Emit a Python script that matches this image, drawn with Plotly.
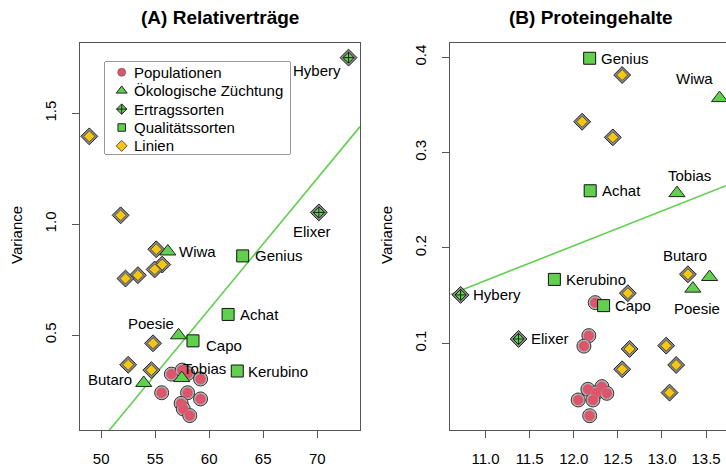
import plotly.graph_objects as go

# ---------------- data: panel A (Relativerträge) ----------------
popA_x = [56.5, 57.5, 58.0, 59.2, 55.6, 58.0, 59.2, 57.4, 57.6, 58.2]
popA_y = [0.324, 0.342, 0.327, 0.302, 0.240, 0.240, 0.212, 0.192, 0.167, 0.137]
linA_x = [48.9, 51.8, 55.1, 55.65, 54.95, 53.4, 52.25, 54.8, 52.5, 54.65]
linA_y = [1.396, 1.04, 0.887, 0.818, 0.796, 0.770, 0.755, 0.463, 0.366, 0.342]
oeko_names = ["Wiwa", "Poesie", "Tobias", "Butaro"]
oekoA_x = [56.17, 57.16, 57.46, 53.94]
oekoA_y = [0.877, 0.499, 0.306, 0.284]
ertrag_names = ["Hybery", "Elixer"]
ertragA_x = [72.9, 70.15]
ertragA_y = [1.751, 1.053]
qual_names = ["Genius", "Achat", "Capo", "Kerubino"]
qualA_x = [63.1, 61.75, 58.5, 62.6]
qualA_y = [0.857, 0.593, 0.474, 0.338]
regA = (-2.923, 0.05899)  # intercept, slope

# ---------------- data: panel B (Proteingehalte) ----------------
popB_x = [12.243, 12.171, 12.115, 12.16, 12.319, 12.254, 12.375, 12.05, 12.217, 12.18]
popB_y = [0.1426, 0.108, 0.097, 0.0517, 0.0545, 0.048, 0.0475, 0.0405, 0.0405, 0.024]
linB_x = [12.549, 12.095, 12.443, 13.294, 12.613, 12.633, 12.549, 13.048, 13.161, 13.086]
linB_y = [0.3814, 0.3324, 0.316, 0.1724, 0.1525, 0.094, 0.0727, 0.0975, 0.0772, 0.0482]
oekoB_x = [13.653, 13.35, 13.17, 13.54]
oekoB_y = [0.3572, 0.1573, 0.2575, 0.1695]
ertragB_x = [10.717, 11.374]
ertragB_y = [0.1507, 0.1045]
qualB_x = [12.18, 12.186, 12.338, 11.78]
qualB_y = [0.399, 0.26, 0.1395, 0.167]
regB = (-0.2357, 0.0365)

xticksA = [50, 55, 60, 65, 70]
yticksA = [0.5, 1.0, 1.5]
xticksB = [11.0, 11.5, 12.0, 12.5, 13.0, 13.5]
yticksB = [0.1, 0.2, 0.3, 0.4]
legend_labels = ["Populationen", "Ökologische Züchtung", "Ertragssorten", "Qualitätssorten", "Linien"]

# ---------------- styles ----------------
RED = "#DF536B"
GREEN = "#61D04F"
YELLOW = "#F5C710"
FONT = "Liberation Sans, Arial, sans-serif"
FS = 15
W, H = 726, 467
rangeA_x = [48.04, 73.96]
rangeA_y = [0.072, 1.817]
rangeB_x = [10.6, 13.726]
rangeB_y = [0.009, 0.415]

labA = {
    "Hybery": ("right", -6, -13), "Elixer": ("center", -7, -19),
    "Wiwa": ("left", 9, 0), "Genius": ("left", 10, 0), "Achat": ("left", 10, 0),
    "Poesie": ("right", -3, 12), "Capo": ("left", 11, -5), "Tobias": ("left", -1, 10),
    "Kerubino": ("left", 9, 0), "Butaro": ("right", -10, 3),
}
labB = {
    "Genius": ("left", 9, 0), "Wiwa": ("center", -25, 20), "Tobias": ("center", 13, 18),
    "Achat": ("left", 10, 0), "Butaro": ("center", -25, 22), "Poesie": ("center", 4, -20),
    "Kerubino": ("left", 10, 0), "Hybery": ("left", 10, 0), "Capo": ("left", 9, 0),
    "Elixer": ("left", 10, 0),
}

fig = go.Figure()


def add_panel(xa, ya, pop, lin, oeko, ertrag, qual, reg, xr):
    a, b = reg
    fig.add_trace(go.Scatter(x=xr, y=[a + b * xr[0], a + b * xr[1]], mode="lines",
                             line=dict(color=GREEN, width=1.6), xaxis=xa, yaxis=ya,
                             showlegend=False, hoverinfo="skip"))
    # populations: grey ring + red circle
    fig.add_trace(go.Scatter(x=pop[0], y=pop[1], mode="markers", xaxis=xa, yaxis=ya, showlegend=False,
                             marker=dict(symbol="circle", size=14, color="#B8B8B8",
                                         line=dict(color="#333", width=1))))
    fig.add_trace(go.Scatter(x=pop[0], y=pop[1], mode="markers", xaxis=xa, yaxis=ya, showlegend=False,
                             marker=dict(symbol="circle", size=10.5, color=RED,
                                         line=dict(color="#999", width=0.4))))
    # Linien: grey ring + yellow diamond
    fig.add_trace(go.Scatter(x=lin[0], y=lin[1], mode="markers", xaxis=xa, yaxis=ya, showlegend=False,
                             marker=dict(symbol="diamond", size=13, color="#8A8A8A",
                                         line=dict(color="#222", width=1))))
    fig.add_trace(go.Scatter(x=lin[0], y=lin[1], mode="markers", xaxis=xa, yaxis=ya, showlegend=False,
                             marker=dict(symbol="diamond", size=8.5, color=YELLOW,
                                         line=dict(color="#333", width=0.7))))
    # Ertragssorten
    fig.add_trace(go.Scatter(x=ertrag[0], y=ertrag[1], mode="markers", xaxis=xa, yaxis=ya, showlegend=False,
                             marker=dict(symbol="diamond", size=13, color="#8A8A8A",
                                         line=dict(color="#222", width=1))))
    fig.add_trace(go.Scatter(x=ertrag[0], y=ertrag[1], mode="markers", xaxis=xa, yaxis=ya, showlegend=False,
                             marker=dict(symbol="diamond-cross", size=8.5, color=GREEN,
                                         line=dict(color="#222", width=1))))
    # Ökologische Züchtung
    fig.add_trace(go.Scatter(x=oeko[0], y=oeko[1], mode="markers", xaxis=xa, yaxis=ya, showlegend=False,
                             marker=dict(symbol="triangle-up", size=14, color=GREEN,
                                         line=dict(color="#222", width=1))))
    # Qualitätssorten
    fig.add_trace(go.Scatter(x=qual[0], y=qual[1], mode="markers", xaxis=xa, yaxis=ya, showlegend=False,
                             marker=dict(symbol="square", size=12, color=GREEN,
                                         line=dict(color="#111", width=1))))


add_panel("x", "y", (popA_x, popA_y), (linA_x, linA_y), (oekoA_x, oekoA_y),
          (ertragA_x, ertragA_y), (qualA_x, qualA_y), regA, rangeA_x)
add_panel("x2", "y2", (popB_x, popB_y), (linB_x, linB_y), (oekoB_x, oekoB_y),
          (ertragB_x, ertragB_y), (qualB_x, qualB_y), regB, rangeB_x)

# ---------------- manual legend (box drawn on an auxiliary axis pair) ----------------
leg_left, leg_top, leg_right, leg_bottom = 105, 62, 290, 154
leg_row0, leg_step, leg_sym_x, leg_txt_x = 10.3, 18.4, 16.7, 27
leg_markers = [
    dict(symbol="circle", size=8, color=RED, line=dict(color="#555", width=0.6)),
    dict(symbol="triangle-up", size=9.5, color=GREEN, line=dict(color="#222", width=1)),
    dict(symbol="diamond-cross", size=8, color=GREEN, line=dict(color="#222", width=1)),
    dict(symbol="square", size=7.5, color=GREEN, line=dict(color="#222", width=1)),
    dict(symbol="diamond", size=8.5, color=YELLOW, line=dict(color="#555", width=1)),
]
leg_rows = [leg_row0 + i * leg_step for i in range(len(legend_labels))]
for m, ry in zip(leg_markers, leg_rows):
    fig.add_trace(go.Scatter(x=[leg_sym_x], y=[ry], mode="markers", marker=m,
                             xaxis="x3", yaxis="y3", showlegend=False, hoverinfo="skip",
                             cliponaxis=False))

annotations = []
for lab, ry in zip(legend_labels, leg_rows):
    annotations.append(dict(x=leg_txt_x, y=ry, xref="x3", yref="y3", text=lab, showarrow=False,
                            xanchor="left", yanchor="middle",
                            font=dict(family=FONT, size=FS, color="black")))


def add_labels(names, xs, ys, offs, xref, yref):
    for n, x, y in zip(names, xs, ys):
        anc, dx, dy = offs[n]
        annotations.append(dict(x=x, y=y, xref=xref, yref=yref, text=n, showarrow=False,
                                xanchor=anc, yanchor="middle", xshift=dx, yshift=dy,
                                font=dict(family=FONT, size=FS, color="black")))


add_labels(oeko_names, oekoA_x, oekoA_y, labA, "x", "y")
add_labels(ertrag_names, ertragA_x, ertragA_y, labA, "x", "y")
add_labels(qual_names, qualA_x, qualA_y, labA, "x", "y")
add_labels(oeko_names, oekoB_x, oekoB_y, labB, "x2", "y2")
add_labels(ertrag_names, ertragB_x, ertragB_y, labB, "x2", "y2")
add_labels(qual_names, qualB_x, qualB_y, labB, "x2", "y2")

annotations += [
    dict(x=220 / W, y=1 - 17 / H, xref="paper", yref="paper", text="<b>(A) Relativerträge</b>",
         showarrow=False, xanchor="center", yanchor="middle",
         font=dict(family=FONT, size=19, color="black")),
    dict(x=591 / W, y=1 - 17 / H, xref="paper", yref="paper", text="<b>(B) Proteingehalte</b>",
         showarrow=False, xanchor="center", yanchor="middle",
         font=dict(family=FONT, size=19, color="black")),
    dict(x=16 / W, y=1 - 235 / H, xref="paper", yref="paper", text="Variance", textangle=-90,
         showarrow=False, xanchor="center", yanchor="middle",
         font=dict(family=FONT, size=FS, color="black")),
    dict(x=386 / W, y=1 - 235 / H, xref="paper", yref="paper", text="Variance", textangle=-90,
         showarrow=False, xanchor="center", yanchor="middle",
         font=dict(family=FONT, size=FS, color="black")),
]

shapes = [dict(type="rect", xref="paper", yref="paper",
               x0=leg_left / W, x1=leg_right / W, y0=1 - leg_bottom / H, y1=1 - leg_top / H,
               line=dict(color="#333", width=1), fillcolor="white", layer="below")]

axis_common = dict(showgrid=False, zeroline=False, showline=True, linecolor="#555", linewidth=1,
                   ticks="outside", ticklen=7, tickcolor="#555", tickwidth=1,
                   tickfont=dict(family=FONT, size=FS, color="black"))
ydom = [1 - 430 / H, 1 - 43 / H]
hidden = dict(visible=False, showgrid=False, zeroline=False, fixedrange=True)

fig.update_layout(
    width=W, height=H, autosize=False,
    margin=dict(l=0, r=0, t=0, b=0, pad=0),
    paper_bgcolor="white", plot_bgcolor="white",
    xaxis=dict(domain=[80 / W, 360 / W], range=rangeA_x, tickvals=xticksA,
               ticktext=[str(v) for v in xticksA], mirror=True, anchor="y",
               ticklabelstandoff=8, **axis_common),
    yaxis=dict(domain=ydom, range=rangeA_y, tickvals=yticksA,
               ticktext=[f"{v:.1f}" for v in yticksA], mirror=True, anchor="x",
               tickangle=-90, ticklabelstandoff=10, **axis_common),
    xaxis2=dict(domain=[450.3 / W, 1.0], range=rangeB_x, tickvals=xticksB,
                ticktext=[f"{v:.1f}" for v in xticksB], mirror=True, anchor="y2",
                ticklabelstandoff=8, **axis_common),
    yaxis2=dict(domain=ydom, range=rangeB_y, tickvals=yticksB,
                ticktext=[f"{v:.1f}" for v in yticksB], mirror=False, anchor="x2",
                tickangle=-90, ticklabelstandoff=10, **axis_common),
    xaxis3=dict(domain=[leg_left / W, leg_right / W], range=[0, leg_right - leg_left],
                anchor="y3", **hidden),
    yaxis3=dict(domain=[1 - leg_bottom / H, 1 - leg_top / H], range=[leg_bottom - leg_top, 0],
                anchor="x3", **hidden),
    annotations=annotations,
    shapes=shapes,
    showlegend=False,
)

fig.write_html("out.html", config={"displayModeBar": False},
               post_script="document.body.style.margin='0';document.body.style.overflow='hidden';")
